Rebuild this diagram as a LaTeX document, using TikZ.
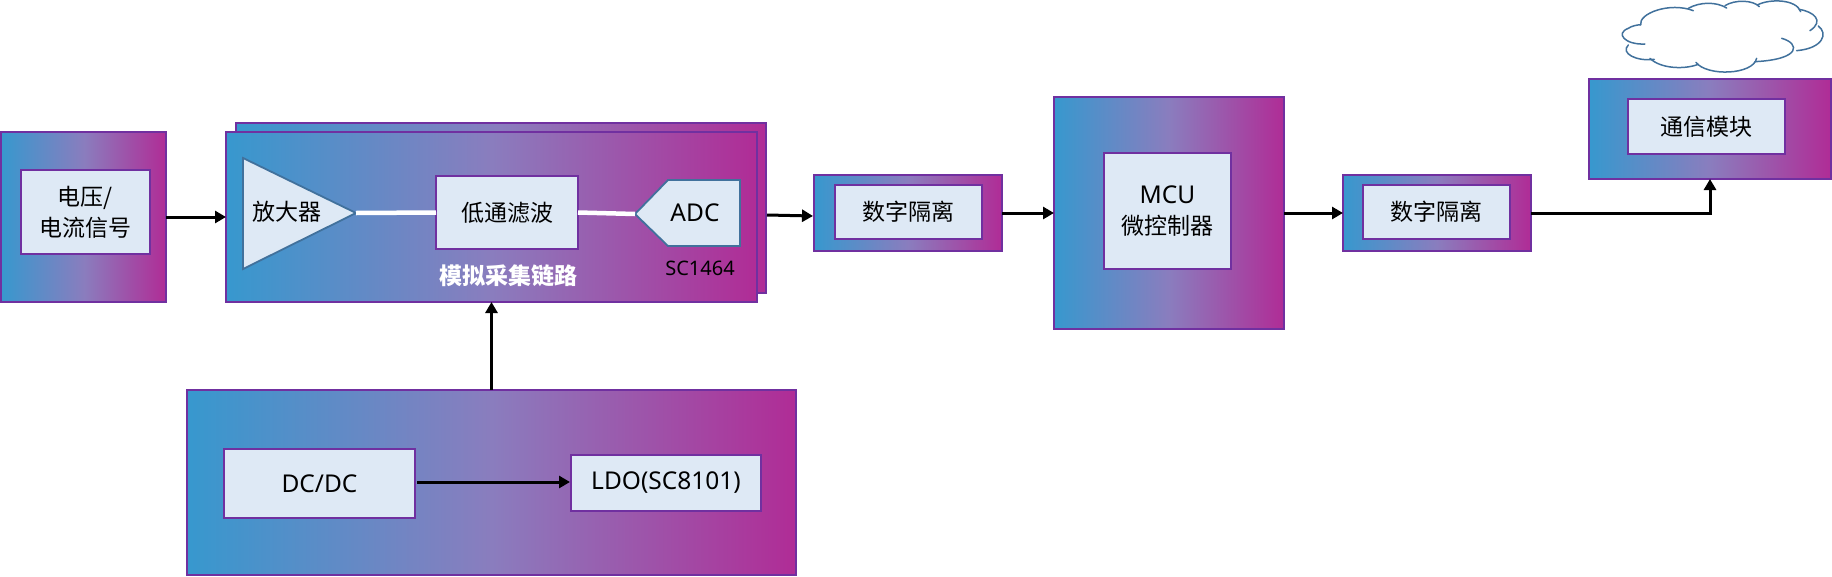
\documentclass[tikz,border=0pt]{standalone}
\usepackage{fontspec}
\setmainfont{Noto Sans}
\newfontfamily\cjk{Noto Sans CJK SC}
\usetikzlibrary{arrows.meta}
\definecolor{purp}{HTML}{7030A0}
\definecolor{gradL}{HTML}{3798CE}
\definecolor{gradM}{HTML}{8A7DBE}
\definecolor{gradR}{HTML}{B02C96}
\definecolor{pale}{HTML}{DEE9F5}
\definecolor{steel}{HTML}{41719C}
\tikzset{
  outerbox/.style={draw=purp,line width=2pt,left color=gradL,right color=gradR,middle color=gradM,inner sep=0pt,outer sep=0pt},
  innerbox/.style={draw=purp,line width=2pt,fill=pale,inner sep=0pt,outer sep=0pt,align=center,font=\fontsize{23}{31}\selectfont},
  plainlabel/.style={inner sep=0pt,outer sep=0pt,align=center,font=\fontsize{23}{31}\selectfont},
  steelshape/.style={draw=steel,line width=1.8pt,fill=pale,line join=miter},
  conn/.style={draw=black,line width=3pt,-{Triangle[length=11pt,width=12pt]}},
  whiteline/.style={draw=white,line width=4.5pt},
  cloudline/.style={draw=steel,line width=1.5pt,line cap=round}
}
\newcommand{\latintext}[1]{{\fontsize{24.5}{31}\selectfont #1}}
\newcommand{\placebox}[6]{%
  \node[#6,minimum width={(#4-#2)*1pt},minimum height={(#5-#3)*1pt}] (#1) at ({(#2+#4)/2},{(#3+#5)/2}) {};}
\newcommand{\placetext}[7]{%
  \node[#6,minimum width={(#4-#2)*1pt},minimum height={(#5-#3)*1pt}] (#1) at ({(#2+#4)/2},{(#3+#5)/2}) {#7};}
\begin{document}
\begin{tikzpicture}[x=1pt,y=-1pt]
\useasboundingbox (0,0) rectangle (1832,576);
% outer gradient boxes
\placebox{src}{1}{132}{166}{302}{outerbox}
\placebox{back}{236}{123}{766}{293}{outerbox}
\placebox{main}{226}{132}{757}{302}{outerbox}
\placebox{isoa}{814}{175}{1002}{251}{outerbox}
\placebox{mcu}{1054}{97}{1284}{329}{outerbox}
\placebox{isob}{1343}{175}{1531}{251}{outerbox}
\placebox{comm}{1589}{79}{1831}{179}{outerbox}
\placebox{power}{187}{390}{796}{575}{outerbox}
% inner boxes
\placetext{srcin}{21}{170}{150}{254}{innerbox}{\cjk 电压/\\\cjk 电流信号}
\placetext{filter}{436}{176}{578}{249}{innerbox}{\cjk 低通滤波}
\placetext{isoain}{835}{185}{982}{239}{innerbox}{\cjk 数字隔离}
\placetext{mcuin}{1104}{153}{1231}{269}{innerbox}{\latintext{MCU}\\\cjk 微控制器}
\placetext{isobin}{1363}{185}{1510}{239}{innerbox}{\cjk 数字隔离}
\placetext{commin}{1628}{99}{1785}{154}{innerbox}{\cjk 通信模块}
\placetext{dcdc}{224}{449}{415}{518}{innerbox}{\latintext{DC/DC}}
\placetext{ldo}{571}{455}{761}{511}{innerbox}{\latintext{LDO(SC8101)}}
% amplifier
\coordinate (amptip) at (356,213);
\draw[steelshape] (243,158) -- (amptip) -- (243,269) -- cycle;
\node[plainlabel] (amp) at (287,212) {\cjk 放大器};
% ADC
\coordinate (adctip) at (635,214);
\draw[steelshape] (adctip) -- (668,180) -- (740,180) -- (740,246) -- (668,246) -- cycle;
\node[plainlabel] (adc) at (695,213) {\latintext{ADC}};
% labels
\node[plainlabel,text=white,font=\fontsize{23}{28}\selectfont\bfseries] (chainlabel) at (508,276) {\cjk 模拟采集链路};
\node[plainlabel,font=\fontsize{20}{24}\selectfont] (partlabel) at (700,268) {SC1464};
% white signal lines
\draw[whiteline] (amptip) -- (filter.west);
\draw[whiteline] (filter.east) -- (adctip);
% connectors
\coordinate (backout) at (767,215);
\coordinate (isoaarrive) at (813,216);
\coordinate (dcout) at (417,482);
\coordinate (ldoin) at (570,482);
\draw[conn] (src.east) -- (main.west);
\draw[conn] (backout) -- (isoaarrive);
\draw[conn] (isoa.east |- mcu.west) -- (mcu.west);
\draw[conn] (mcu.east) -- (isob.west |- mcu.east);
\draw[conn] (isob.east |- mcu.east) -| (comm.south);
\draw[conn] (power.north) -- (main.south);
\draw[conn] (dcout) -- (ldoin);
% cloud
\begin{scope}[shift={(1320,0)},x=0.3333pt,y=-0.3333pt]
\draw[cloudline] (962,75) .. controls (955,40) and (1050,5) .. (1120,32);
\draw[cloudline] (1105,25) .. controls (1140,5) and (1190,5) .. (1220,24);
\draw[cloudline] (1215,17) .. controls (1245,-2) and (1300,0) .. (1318,20);
\draw[cloudline] (1312,15) .. controls (1350,-5) and (1430,-2) .. (1442,35);
\draw[cloudline] (1438,28) .. controls (1480,35) and (1515,62) .. (1470,92);
\draw[cloudline] (1495,78) .. controls (1525,100) and (1510,145) .. (1430,152);
\draw[cloudline] (1385,115) .. controls (1440,130) and (1445,178) .. (1305,185);
\draw[cloudline] (1310,175) .. controls (1300,225) and (1160,230) .. (1128,187);
\draw[cloudline] (1135,193) .. controls (1090,210) and (1020,205) .. (990,175);
\draw[cloudline] (1003,178) .. controls (950,185) and (900,160) .. (925,135);
\draw[cloudline] (975,132) .. controls (915,135) and (885,100) .. (925,85) .. controls (935,78) and (950,75) .. (962,74);
\end{scope}
\end{tikzpicture}
\end{document}
